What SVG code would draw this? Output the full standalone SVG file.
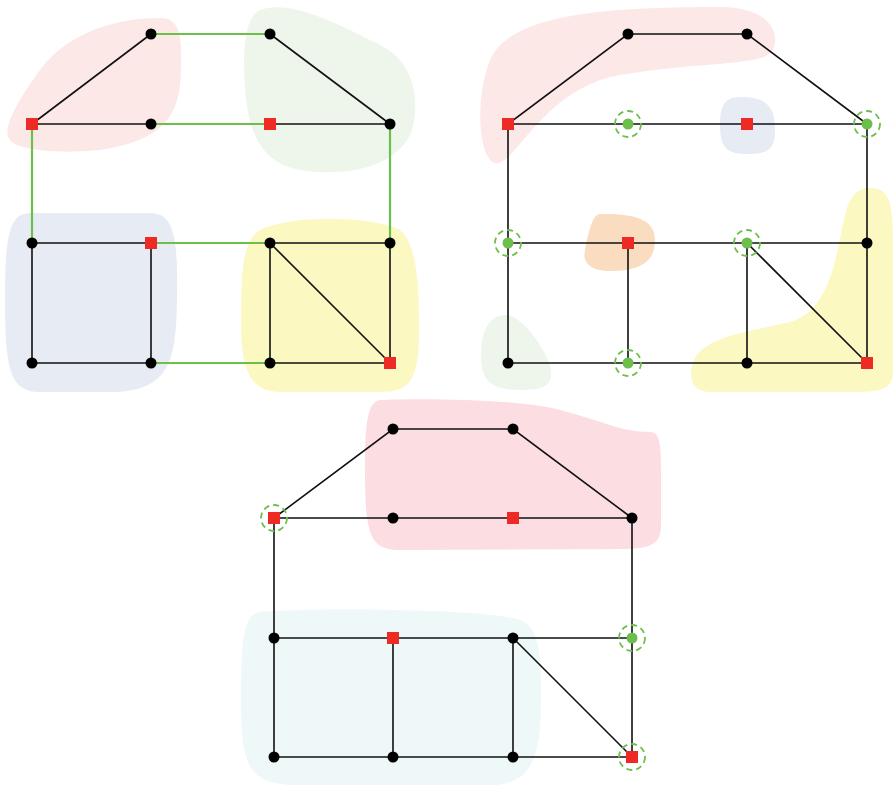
<svg xmlns="http://www.w3.org/2000/svg" width="893" height="785" viewBox="0 0 893 785">
<style>
.e{stroke:#111;stroke-width:1.6;fill:none}
.g{stroke:#6cbf4a;stroke-width:2.2;fill:none}
.n{fill:#000}
.s{fill:#ee2a24}
.gn{fill:#6cbf4a}
.ring{fill:none;stroke:#6cbf4a;stroke-width:1.8;stroke-dasharray:6,4}
</style>
<defs>
<circle id="dot" r="5.5" class="n"/>
<rect id="sq" x="-6" y="-6" width="12" height="12" class="s"/>
<circle id="gdot" r="5.5" class="gn"/>
<circle id="rg" r="13" class="ring"/>
</defs>
<g id="blobs">
<path d="M10,140 C0,128 22,95 40,70 C70,30 120,18 160,18 C180,18 182,35 181,70 C180,115 165,140 100,150 C50,155 15,148 10,140 Z" fill="#fde8e8"/>
<path d="M260,10 C290,0 330,20 380,45 C415,62 420,100 412,130 C400,165 350,178 300,170 C260,163 250,130 246,100 C242,60 243,18 260,10 Z" fill="#eef6ec"/>
<path d="M30,213 L150,213 C175,213 178,240 177,300 C176,360 170,392 110,392 L40,392 C10,392 5,370 5,300 C5,240 8,213 30,213 Z" fill="#e7ebf4"/>
<path d="M260,230 C290,215 370,215 400,230 C418,245 419,290 419,330 C419,380 410,392 380,392 L280,392 C250,392 241,370 241,320 C241,270 243,240 260,230 Z" fill="#fbf8c2"/>
<path d="M490,160 C476,140 478,90 490,60 C510,15 600,7 720,7 C780,7 782,45 768,55 C752,65 700,62 620,75 C560,85 530,135 510,155 C500,165 495,165 490,160 Z" fill="#fde8e8"/>
<path d="M740,97 C770,97 775,110 775,130 C775,150 768,154 745,154 C725,154 720,145 720,125 C720,105 725,97 740,97 Z" fill="#e7ebf4"/>
<path d="M600,214 C640,213 655,222 655,240 C655,262 640,271 610,271 C590,271 582,262 585,250 C588,235 592,214 600,214 Z" fill="#fadcc0"/>
<path d="M505,315 C520,315 540,340 550,365 C555,385 545,390 520,390 C490,390 481,380 481,355 C481,330 490,315 505,315 Z" fill="#eef6ec"/>
<path d="M870,188 C888,188 893,200 893,240 L893,372 C893,390 880,392 850,392 L710,392 C690,392 688,375 694,360 C705,335 760,330 790,322 C830,310 835,260 845,215 C850,195 858,188 870,188 Z" fill="#fbf8c2"/>
<path d="M380,400 C420,398 520,399 560,410 C600,420 620,432 650,432 C660,432 661,445 661,470 L661,525 C661,545 650,549 620,549 L400,550 C370,550 365,535 365,470 C365,420 368,402 380,400 Z" fill="#fbdde2"/>
<path d="M260,612 C300,608 480,608 520,620 C541,628 541,660 541,700 C541,760 530,785 490,785 L300,785 C250,785 241,770 241,700 C241,640 243,615 260,612 Z" fill="#eef8f9"/>
</g>
<g id="connectors">
<path class="g" d="M151,34H270M151,124H270M32,124V243M390,124V243M151,243H270M151,363H270"/>
<path class="e" d="M32,124L151,34M32,124H151M270,34L390,124M270,124H390M32,243H151V363H32Z M270,243H390V363H270Z M270,243L390,363"/>
<path class="e" d="M508,124L628,34H747L867,124M508,124H867M508,124V363M867,124V363M508,243H867M508,363H867M628,243V363M747,243V363M747,243L867,363"/>
<path class="e" d="M274,518L393,429H513L632,518M274,518H632M274,518V757M632,518V757M274,638H632M274,757H632M393,638V757M513,638V757M513,638L632,757"/>
</g>
<g id="p1-nodes">
<g id="a1"><use href="#dot" x="151" y="34"/></g>
<g id="a2"><use href="#dot" x="270" y="34"/></g>
<g id="a3"><use href="#sq" x="32" y="124"/></g>
<g id="a4"><use href="#dot" x="151" y="124"/></g>
<g id="a5"><use href="#sq" x="270" y="124"/></g>
<g id="a6"><use href="#dot" x="390" y="124"/></g>
<g id="a7"><use href="#dot" x="32" y="243"/></g>
<g id="a8"><use href="#sq" x="151" y="243"/></g>
<g id="a9"><use href="#dot" x="270" y="243"/></g>
<g id="a10"><use href="#dot" x="390" y="243"/></g>
<g id="a11"><use href="#dot" x="32" y="363"/></g>
<g id="a12"><use href="#dot" x="151" y="363"/></g>
<g id="a13"><use href="#dot" x="270" y="363"/></g>
<g id="a14"><use href="#sq" x="390" y="363"/></g>
</g>
<g id="p2-nodes">
<g id="b1"><use href="#dot" x="628" y="34"/></g>
<g id="b2"><use href="#dot" x="747" y="34"/></g>
<g id="b3"><use href="#sq" x="508" y="124"/></g>
<g id="b4"><use href="#gdot" x="628" y="124"/><use href="#rg" x="628" y="124"/></g>
<g id="b5"><use href="#sq" x="747" y="124"/></g>
<g id="b6"><use href="#gdot" x="867" y="124"/><use href="#rg" x="867" y="124"/></g>
<g id="b7"><use href="#gdot" x="508" y="243"/><use href="#rg" x="508" y="243"/></g>
<g id="b8"><use href="#sq" x="628" y="243"/></g>
<g id="b9"><use href="#gdot" x="747" y="243"/><use href="#rg" x="747" y="243"/></g>
<g id="b10"><use href="#dot" x="867" y="243"/></g>
<g id="b11"><use href="#dot" x="508" y="363"/></g>
<g id="b12"><use href="#gdot" x="628" y="363"/><use href="#rg" x="628" y="363"/></g>
<g id="b13"><use href="#dot" x="747" y="363"/></g>
<g id="b14"><use href="#sq" x="867" y="363"/></g>
</g>
<g id="p3-nodes">
<g id="c1"><use href="#dot" x="393" y="429"/></g>
<g id="c2"><use href="#dot" x="513" y="429"/></g>
<g id="c3"><use href="#sq" x="274" y="518"/><use href="#rg" x="274" y="518"/></g>
<g id="c4"><use href="#dot" x="393" y="518"/></g>
<g id="c5"><use href="#sq" x="513" y="518"/></g>
<g id="c6"><use href="#dot" x="632" y="518"/></g>
<g id="c7"><use href="#dot" x="274" y="638"/></g>
<g id="c8"><use href="#sq" x="393" y="638"/></g>
<g id="c9"><use href="#dot" x="513" y="638"/></g>
<g id="c10"><use href="#gdot" x="632" y="638"/><use href="#rg" x="632" y="638"/></g>
<g id="c11"><use href="#dot" x="274" y="757"/></g>
<g id="c12"><use href="#dot" x="393" y="757"/></g>
<g id="c13"><use href="#dot" x="513" y="757"/></g>
<g id="c14"><use href="#sq" x="632" y="757"/><use href="#rg" x="632" y="757"/></g>
</g>
</svg>
